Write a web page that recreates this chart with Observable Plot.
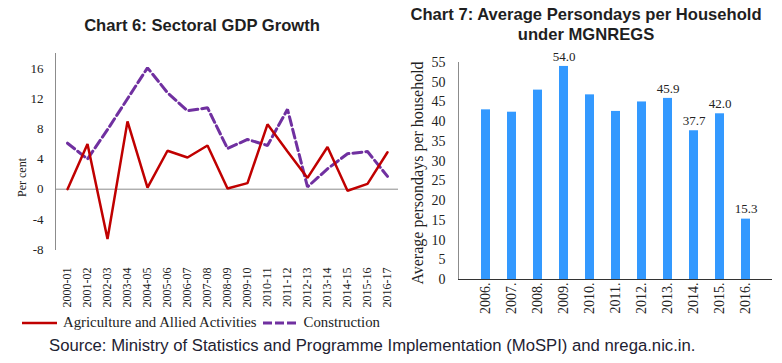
<!DOCTYPE html>
<html>
<head>
<meta charset="utf-8">
<script src="https://cdn.jsdelivr.net/npm/d3@7"></script>
<script src="https://cdn.jsdelivr.net/npm/@observablehq/plot@0.6"></script>
<style>
  html, body { margin: 0; padding: 0; background: #fff; }
  #root { position: relative; width: 782px; height: 363px; overflow: hidden; font-family: "Liberation Serif", serif; }
  .abs { position: absolute; }
  .title { font-family: "Liberation Sans", Arial, sans-serif; font-weight: bold; font-size: 16.6px; line-height: 20px; color: #1f1f1f; text-align: center; white-space: nowrap; }
  .legend { font-size: 14.8px; color: #222; white-space: nowrap; display: flex; align-items: center; }
  .source { font-family: "Liberation Sans", Arial, sans-serif; font-size: 16.7px; line-height: 20px; color: #1e2232; white-space: nowrap; }
  .rot { transform-origin: center center; white-space: nowrap; }
  svg text { font-family: "Liberation Serif", serif; }
</style>
</head>
<body>
<div id="root"></div>
<script>
// ---- Chart 6 data ----
const years6 = ["2000-01","2001-02","2002-03","2003-04","2004-05","2005-06","2006-07","2007-08","2008-09","2009-10","2010-11","2011-12","2012-13","2013-14","2014-15","2015-16","2016-17"];
const agriculture = [0.0, 6.0, -6.6, 9.0, 0.2, 5.1, 4.2, 5.8, 0.1, 0.8, 8.6, 5.0, 1.5, 5.6, -0.2, 0.7, 4.9];
const construction = [6.1, 4.0, 7.9, 12.0, 16.1, 12.8, 10.4, 10.8, 5.4, 6.6, 5.8, 10.6, 0.3, 2.7, 4.7, 5.0, 1.7];
const yTicks6 = [-8, -4, 0, 4, 8, 12, 16];
const seriesNames = ["Agriculture and Allied Activities", "Construction"];
const seriesColors = ["#c00000", "#7030a0"];

// ---- Chart 7 data ----
const years7 = ["2006.","2007.","2008.","2009.","2010.","2011.","2012.","2013.","2014.","2015.","2016."];
const persondays = [43.0, 42.4, 48.0, 54.0, 46.8, 42.6, 45.0, 45.9, 37.7, 42.0, 15.3];
const labelled = ["2009.","2013.","2014.","2015.","2016."];
const yTicks7 = [0,5,10,15,20,25,30,35,40,45,50,55];

const root = document.getElementById("root");
const SERIF = "Liberation Serif";

const rows6 = [];
years6.forEach((y, i) => {
  rows6.push({year: y, series: seriesNames[0], value: agriculture[i]});
  rows6.push({year: y, series: seriesNames[1], value: construction[i]});
});

const chart6 = Plot.plot({
  width: 400, height: 270,
  marginLeft: 55, marginRight: 2, marginTop: 13, marginBottom: 61,
  style: "font-family: 'Liberation Serif', serif; font-size: 12px; color: #222; background: transparent;",
  x: {type: "point", domain: years6, padding: 0.5},
  y: {domain: [-8, 18]},
  marks: [
    Plot.frame({anchor: "left", stroke: "#8c8c8c"}),
    Plot.ruleY([0], {stroke: "#8c8c8c", strokeWidth: 1}),
    Plot.axisY({ticks: yTicks6, tickFormat: d => String(d), tickSize: 0, tickPadding: 12, label: null, fontSize: 13, fontFamily: SERIF, fill: "#222"}),
    Plot.axisX({tickRotate: -90, tickSize: 0, tickPadding: 18, label: null, fontSize: 12, fontFamily: SERIF, fill: "#222"}),
    Plot.line(rows6.filter(d => d.series === seriesNames[1]), {x: "year", y: "value", stroke: seriesColors[1], strokeWidth: 3, strokeDasharray: "9,4", strokeLinejoin: "miter"}),
    Plot.line(rows6.filter(d => d.series === seriesNames[0]), {x: "year", y: "value", stroke: seriesColors[0], strokeWidth: 2.5, strokeLinejoin: "miter"})
  ]
});
chart6.style.position = "absolute";
chart6.style.left = "0px";
chart6.style.top = "40px";
root.appendChild(chart6);

const rows7 = years7.map((y, i) => ({year: y, value: persondays[i]}));

const chart7 = Plot.plot({
  width: 392, height: 280,
  marginLeft: 68, marginRight: 10, marginTop: 17, marginBottom: 46,
  style: "font-family: 'Liberation Serif', serif; font-size: 14px; color: #222; background: transparent;",
  x: {type: "band", domain: years7, padding: 0.67, align: 0.5},
  y: {domain: [0, 55]},
  marks: [
    Plot.frame({anchor: "left", stroke: "#8c8c8c"}),
    Plot.barY(rows7, {x: "year", y: "value", fill: "#3399ff"}),
    Plot.ruleY([0], {stroke: "#333", strokeWidth: 1}),
    Plot.axisY({ticks: yTicks7, tickSize: 0, tickPadding: 13, label: null, fontSize: 14, fontFamily: SERIF, fill: "#222"}),
    Plot.axisX({tickRotate: -90, tickSize: 0, tickPadding: 3, label: null, fontSize: 14, fontFamily: SERIF, fill: "#222"}),
    Plot.text(rows7.filter(d => labelled.includes(d.year)), {x: "year", y: "value", text: d => d.value.toFixed(1), dy: -10, fontSize: 13, fontFamily: SERIF, fill: "#222"})
  ]
});
chart7.style.position = "absolute";
chart7.style.left = "390px";
chart7.style.top = "45px";
root.appendChild(chart7);

function addDiv(cls, html, css) {
  const d = document.createElement("div");
  d.className = "abs " + cls;
  d.innerHTML = html;
  Object.assign(d.style, css);
  root.appendChild(d);
  return d;
}

addDiv("title", "Chart 6: Sectoral GDP Growth", {left: "0px", width: "404px", top: "16px"});
addDiv("title", "Chart 7: Average Persondays per Household<br>under MGNREGS", {left: "390px", width: "392px", top: "5px"});

// Rotated axis titles
const pc = addDiv("rot", "Per cent", {fontSize: "12px", color: "#222", left: "0px", top: "0px"});
pc.style.transform = "rotate(-90deg)";
{
  const w = pc.offsetWidth, h = pc.offsetHeight;
  pc.style.left = (22 - w / 2) + "px";
  pc.style.top = (177 - h / 2) + "px";
}
const ap = addDiv("rot", "Average persondays per household", {fontSize: "16px", color: "#222", left: "0px", top: "0px"});
ap.style.transform = "rotate(-90deg)";
{
  const w = ap.offsetWidth, h = ap.offsetHeight;
  ap.style.left = (417 - w / 2) + "px";
  ap.style.top = (173 - h / 2) + "px";
}

// Legend
const leg = addDiv("legend", "", {left: "22px", top: "314px"});
seriesNames.forEach((name, i) => {
  const sw = document.createElementNS("http://www.w3.org/2000/svg", "svg");
  sw.setAttribute("width", "35"); sw.setAttribute("height", "10");
  sw.style.marginRight = "6px";
  const ln = document.createElementNS("http://www.w3.org/2000/svg", "line");
  ln.setAttribute("x1", "0"); ln.setAttribute("x2", "35"); ln.setAttribute("y1", "5"); ln.setAttribute("y2", "5");
  ln.setAttribute("stroke", seriesColors[i]);
  ln.setAttribute("stroke-width", i === 0 ? "2.5" : "3");
  if (i === 1) ln.setAttribute("stroke-dasharray", "9,3");
  sw.appendChild(ln);
  leg.appendChild(sw);
  const t = document.createElement("span");
  t.textContent = name;
  t.style.marginRight = i === 0 ? "6px" : "0px";
  leg.appendChild(t);
});

addDiv("source", "Source: Ministry of Statistics and Programme Implementation (MoSPI) and nrega.nic.in.", {left: "49px", top: "336px"});
</script>
</body>
</html>
